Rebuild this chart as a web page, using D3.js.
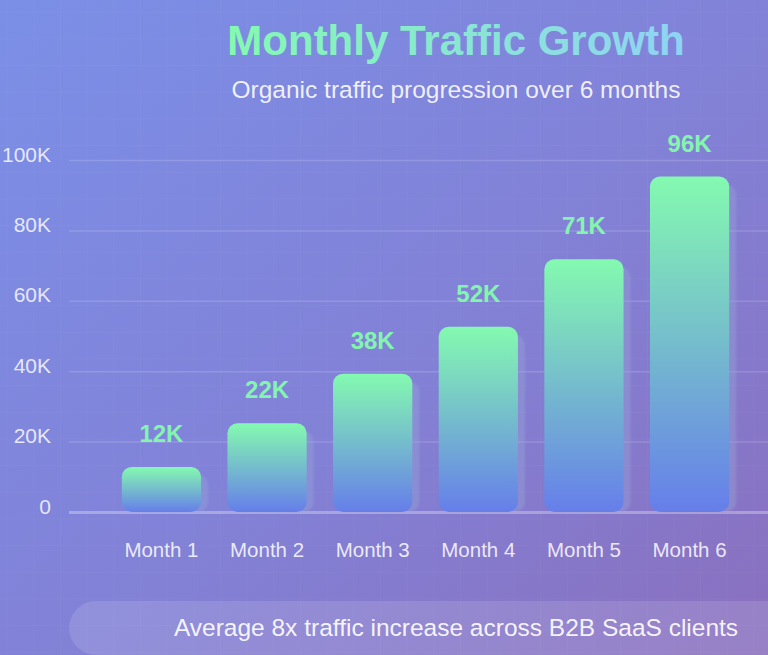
<!DOCTYPE html>
<html>
<head>
<meta charset="utf-8">
<script src="https://cdn.jsdelivr.net/npm/d3@7"></script>
<style>
  html, body { margin: 0; padding: 0; overflow: hidden; }
  body { width: 768px; height: 655px; }
  text { font-family: Helvetica, Arial, "Liberation Sans", sans-serif; }
</style>
</head>
<body>
<div id="chart"></div>
<script>
/********************************************************/
// Data
const months = ["Month 1", "Month 2", "Month 3", "Month 4", "Month 5", "Month 6"];
const visits = [12800, 25200, 39300, 52600, 71800, 95300];
const visitLabels = ["12K", "22K", "38K", "52K", "71K", "96K"];
const yTicks = [0, 20000, 40000, 60000, 80000, 100000];
const titleText = "Monthly Traffic Growth";
const subtitleText = "Organic traffic progression over 6 months";
const footnoteText = "Average 8x traffic increase across B2B SaaS clients";
/********************************************************/
const svgWidth = 768;
const svgHeight = 655;
const chartMargin = { top: 160, left: 69, right: -14, bottom: 143 };
const centerX = 456;
/********************************************************/
const svg = d3.select("#chart").append("svg")
  .attr("width", svgWidth).attr("height", svgHeight);

const defs = svg.append("defs");

const bg = defs.append("linearGradient").attr("id", "bgGrad")
  .attr("x1", "0%").attr("y1", "0%").attr("x2", "100%").attr("y2", "100%");
bg.append("stop").attr("offset", "0%").attr("stop-color", "#7b8fe7");
bg.append("stop").attr("offset", "55%").attr("stop-color", "#8281d6");
bg.append("stop").attr("offset", "100%").attr("stop-color", "#8a6fbe");

const grid = defs.append("pattern").attr("id", "gridPat")
  .attr("patternUnits", "userSpaceOnUse")
  .attr("width", 26.67).attr("height", 26.67)
  .attr("x", 6.67).attr("y", 11.67);
grid.append("path").attr("d", "M0,0 H26.67 M0,0 V26.67")
  .attr("stroke", "rgba(255,255,255,0.05)").attr("stroke-width", 1).attr("fill", "none");

const titleGrad = defs.append("linearGradient").attr("id", "titleGrad")
  .attr("x1", "0%").attr("y1", "0%").attr("x2", "100%").attr("y2", "0%");
titleGrad.append("stop").attr("offset", "0%").attr("stop-color", "#84fab0");
titleGrad.append("stop").attr("offset", "100%").attr("stop-color", "#8fd3f4");

const barGrad = defs.append("linearGradient").attr("id", "barGrad")
  .attr("x1", "0%").attr("y1", "0%").attr("x2", "0%").attr("y2", "100%");
barGrad.append("stop").attr("offset", "0%").attr("stop-color", "#84fab0");
barGrad.append("stop").attr("offset", "100%").attr("stop-color", "#667eea");

defs.append("filter").attr("id", "soft")
  .attr("x", "-20%").attr("y", "-20%").attr("width", "140%").attr("height", "140%")
  .append("feGaussianBlur").attr("stdDeviation", 1);

svg.append("rect").attr("width", svgWidth).attr("height", svgHeight).attr("fill", "url(#bgGrad)");
svg.append("rect").attr("width", svgWidth).attr("height", svgHeight).attr("fill", "url(#gridPat)");
/********************************************************/
// Titles
svg.append("text")
  .attr("x", centerX).attr("y", 55)
  .attr("text-anchor", "middle")
  .attr("font-size", "42px").attr("font-weight", "bold")
  .attr("fill", "url(#titleGrad)")
  .text(titleText);

svg.append("text")
  .attr("x", centerX).attr("y", 98)
  .attr("text-anchor", "middle")
  .attr("font-size", "24.5px")
  .attr("fill", "rgba(255,255,255,0.88)")
  .text(subtitleText);
/********************************************************/
// Scales
const x = d3.scaleBand()
  .domain(months)
  .range([chartMargin.left, svgWidth - chartMargin.right])
  .paddingInner(0.25)
  .paddingOuter(0.5);

const y = d3.scaleLinear()
  .domain([0, 100000])
  .range([svgHeight - chartMargin.bottom, chartMargin.top]);

const fmtK = (d) => d === 0 ? "0" : d / 1000 + "K";

// Gridlines + y labels
const yAxis = d3.axisLeft(y).tickValues(yTicks)
  .tickSize(-(x.range()[1] - x.range()[0]))
  .tickFormat(fmtK);

const gy = svg.append("g")
  .attr("transform", `translate(${chartMargin.left},0)`)
  .call(yAxis);
gy.select(".domain").remove();
gy.selectAll(".tick line")
  .attr("stroke", (d) => d === 0 ? "rgba(255,255,255,0.3)" : "rgba(255,255,255,0.15)")
  .attr("stroke-width", (d) => d === 0 ? 3 : 1.5);
gy.selectAll(".tick text")
  .attr("x", -18).attr("dy", "0.05em")
  .attr("font-size", "21px")
  .attr("font-family", "Helvetica, Arial, 'Liberation Sans', sans-serif")
  .attr("fill", "rgba(255,255,255,0.82)");
/********************************************************/
// Bars
const bars = svg.append("g").selectAll("g")
  .data(months.map((m, i) => ({ month: m, value: visits[i], label: visitLabels[i] })))
  .enter().append("g");

bars.append("rect")
  .attr("x", (d) => x(d.month) + 7)
  .attr("y", (d) => y(d.value) + 8)
  .attr("width", x.bandwidth())
  .attr("height", (d) => y(0) - y(d.value) - 8)
  .attr("rx", 10)
  .attr("fill", "rgba(150,165,215,0.4)")
  .attr("filter", "url(#soft)");

bars.append("rect")
  .attr("x", (d) => x(d.month))
  .attr("y", (d) => y(d.value))
  .attr("width", x.bandwidth())
  .attr("height", (d) => y(0) - y(d.value))
  .attr("rx", 10)
  .attr("fill", "url(#barGrad)");

bars.append("text")
  .attr("x", (d) => x(d.month) + x.bandwidth() / 2)
  .attr("y", (d) => y(d.value) - 25)
  .attr("text-anchor", "middle")
  .attr("font-size", "24px").attr("font-weight", "bold")
  .attr("fill", "#84f5ae")
  .text((d) => d.label);
/********************************************************/
// X labels
const xAxis = d3.axisBottom(x).tickSize(0).tickPadding(0);
const gx = svg.append("g")
  .attr("transform", `translate(0,${y(0)})`)
  .call(xAxis);
gx.select(".domain").remove();
gx.selectAll(".tick text")
  .attr("y", 45).attr("dy", 0)
  .attr("font-size", "20.5px")
  .attr("font-family", "Helvetica, Arial, 'Liberation Sans', sans-serif")
  .attr("fill", "rgba(255,255,255,0.85)");
/********************************************************/
// Footnote banner
svg.append("rect")
  .attr("x", 69).attr("y", 601)
  .attr("width", 760).attr("height", 54)
  .attr("rx", 27)
  .attr("fill", "rgba(255,255,255,0.12)");

svg.append("text")
  .attr("x", centerX).attr("y", 636)
  .attr("text-anchor", "middle")
  .attr("font-size", "24.5px")
  .attr("fill", "rgba(255,255,255,0.92)")
  .text(footnoteText);
</script>
</body>
</html>
